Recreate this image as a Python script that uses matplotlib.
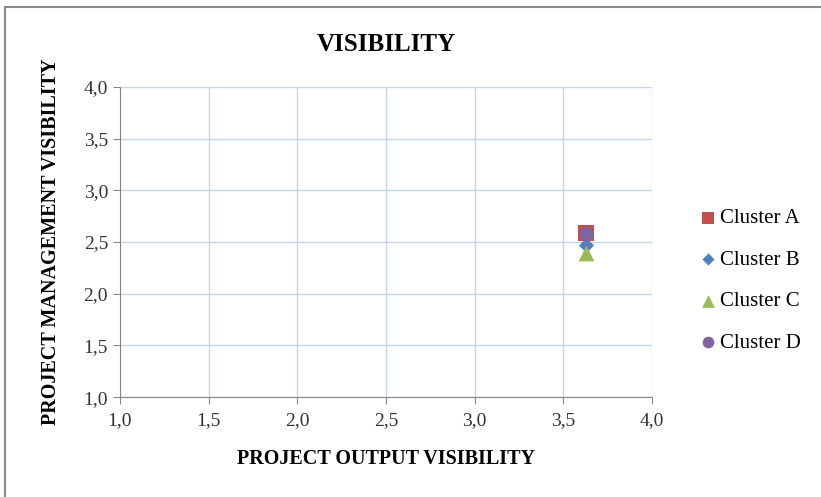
import matplotlib.pyplot as plt
from matplotlib.patches import Rectangle

clusters = ['Cluster A', 'Cluster B', 'Cluster C', 'Cluster D']
output_vis = [3.63, 3.63, 3.63, 3.63]
management_vis = [2.59, 2.47, 2.39, 2.58]
markers = ['s', 'D', '^', 'o']
sizes = [120, 60, 130, 110]
colors = ['#c0504d', '#4f81bd', '#9bbb59', '#8064a2']
ticks = [1.0, 1.5, 2.0, 2.5, 3.0, 3.5, 4.0]

plt.rcParams['font.family'] = ['Liberation Serif', 'DejaVu Serif']

fig = plt.figure(figsize=(8.21, 4.97), dpi=100)
ax = fig.add_axes([0.146, 0.201, 0.648, 0.624])

# draw order: B, C first, then A and D on top
for i in [1, 2, 0, 3]:
    ax.scatter(output_vis[i], management_vis[i], marker=markers[i], s=sizes[i],
               color=colors[i], label=clusters[i], zorder=3, linewidths=0)

ax.set_xlim(1, 4)
ax.set_ylim(1, 4)
ax.set_xticks(ticks)
ax.set_yticks(ticks)
labels = [f'{t:.1f}'.replace('.', ',') for t in ticks]
ax.set_xticklabels(labels)
ax.set_yticklabels(labels)
ax.tick_params(labelsize=14, colors='#333333', length=5, color='#868686')
ax.tick_params(axis='x', pad=6)
ax.grid(True, color='#c6d4e8', linewidth=1)
ax.set_axisbelow(True)
for s in ['top', 'right']:
    ax.spines[s].set_visible(False)
for s in ['left', 'bottom']:
    ax.spines[s].set_color('#868686')

ax.set_title('VISIBILITY', fontsize=18, fontweight='bold', pad=26)
ax.set_xlabel('PROJECT OUTPUT VISIBILITY', fontsize=14.5, fontweight='bold', labelpad=14)
ax.set_ylabel('PROJECT MANAGEMENT VISIBILITY', fontsize=14.5, fontweight='bold', labelpad=16)

handles, labs = ax.get_legend_handles_labels()
order = [labs.index(c) for c in clusters]
ax.legend([handles[i] for i in order], [labs[i] for i in order],
          loc='center left', bbox_to_anchor=(1.05, 0.375), frameon=False,
          fontsize=15, labelspacing=1.05, handletextpad=0.1, markerscale=0.8,
          handlelength=1.0)

# outer chart frame
fig.patches.append(Rectangle((0.006, -0.1), 1.2, 1.086, transform=fig.transFigure,
                             fill=False, edgecolor='#8a8a8a', linewidth=1.5))

fig.savefig('out.png', dpi=100)
